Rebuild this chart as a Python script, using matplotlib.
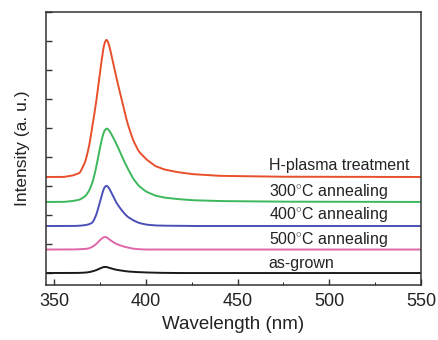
import numpy as np
import matplotlib
matplotlib.use('Agg')
import matplotlib.pyplot as plt
from matplotlib.ticker import MultipleLocator

plt.rcParams['font.family'] = ['Liberation Sans', 'DejaVu Sans']
plt.rcParams['mathtext.fontset'] = 'custom'
plt.rcParams['mathtext.rm'] = 'Liberation Sans'

# wavelength grid (nm)
wavelength = [345, 355, 360, 364, 367, 369, 371, 373, 375, 377, 378.5, 380,
              382, 384, 386, 388, 390, 393, 396, 400, 405, 410, 417, 425,
              440, 470, 550]

# intensities (offset stacked, arbitrary units)
h_plasma = [3.31, 3.31, 3.36, 3.45, 3.84, 4.36, 5.13, 5.94, 6.94, 7.85, 8.09,
            7.85, 7.28, 6.70, 6.18, 5.65, 5.15, 4.58, 4.20, 3.93, 3.69, 3.57,
            3.48, 3.41, 3.35, 3.32, 3.31]
ann_300 = [2.45, 2.45, 2.48, 2.53, 2.65, 2.83, 3.14, 3.67, 4.36, 4.87, 5.00,
           4.92, 4.69, 4.44, 4.16, 3.87, 3.61, 3.26, 3.01, 2.81, 2.67, 2.60,
           2.55, 2.51, 2.48, 2.46, 2.45]
ann_400 = [1.62, 1.62, 1.62, 1.63, 1.65, 1.68, 1.74, 2.01, 2.47, 2.92, 3.03,
           2.92, 2.66, 2.41, 2.23, 2.07, 1.94, 1.82, 1.73, 1.67, 1.64, 1.63,
           1.63, 1.62, 1.62, 1.62, 1.62]
ann_500 = [0.81, 0.81, 0.81, 0.82, 0.83, 0.85, 0.91, 1.00, 1.14, 1.24, 1.24,
           1.16, 1.07, 1.00, 0.95, 0.91, 0.88, 0.84, 0.82, 0.81, 0.81, 0.81,
           0.81, 0.81, 0.81, 0.81, 0.81]
as_grown = [0.0, 0.0, 0.0, 0.005, 0.015, 0.03, 0.06, 0.10, 0.16, 0.21, 0.21,
            0.18, 0.14, 0.11, 0.09, 0.07, 0.055, 0.04, 0.03, 0.02, 0.01,
            0.005, 0.0, 0.0, 0.0, 0.0, 0.0]

labels = ['H-plasma treatment', r'300$^{\circ}$C annealing',
          r'400$^{\circ}$C annealing', r'500$^{\circ}$C annealing', 'as-grown']
label_y = [3.72, 2.80, 2.00, 1.14, 0.33]
colors = ['#e8502c', '#3db85c', '#4b50b8', '#e066aa', '#1a1a1a']
series = [h_plasma, ann_300, ann_400, ann_500, as_grown]

fig = plt.figure(figsize=(4.38, 3.40), dpi=100)
ax = fig.add_axes([0.105, 0.162, 0.856, 0.803])

# smooth the hand-read points for drawing
wl_fine = np.arange(345, 550.05, 0.1)
k = np.hanning(25)
k /= k.sum()
for ys, c in zip(series, colors):
    y_fine = np.interp(wl_fine, wavelength, ys)
    y_s = np.convolve(np.pad(y_fine, 12, mode='edge'), k, mode='valid')
    ax.plot(wl_fine, y_s, color=c, lw=1.4)

for lab, ly in zip(labels, label_y):
    ax.text(467, ly, lab, fontsize=11.5, va='center', ha='left', color='#222222')

ax.set_xlim(345.5, 550)
ax.set_ylim(-0.41, 9.0)
ax.xaxis.set_major_locator(MultipleLocator(50))
ax.xaxis.set_minor_locator(MultipleLocator(25))
ax.yaxis.set_major_locator(MultipleLocator(1))
ax.set_yticklabels([])
ax.tick_params(axis='both', direction='in', length=4, width=1, colors='#333333',
               labelcolor='#222222')
ax.tick_params(axis='x', which='minor', direction='in', length=2.5)
ax.tick_params(axis='x', labelsize=13, pad=6)
for sp in ax.spines.values():
    sp.set_linewidth(1.1)
    sp.set_color('#333333')

ax.set_xlabel('Wavelength (nm)', fontsize=13.5, color='#222222', labelpad=4)
ax.set_ylabel('Intensity (a. u.)', fontsize=12.5, color='#222222', labelpad=8)

fig.savefig('out.png', dpi=100)
